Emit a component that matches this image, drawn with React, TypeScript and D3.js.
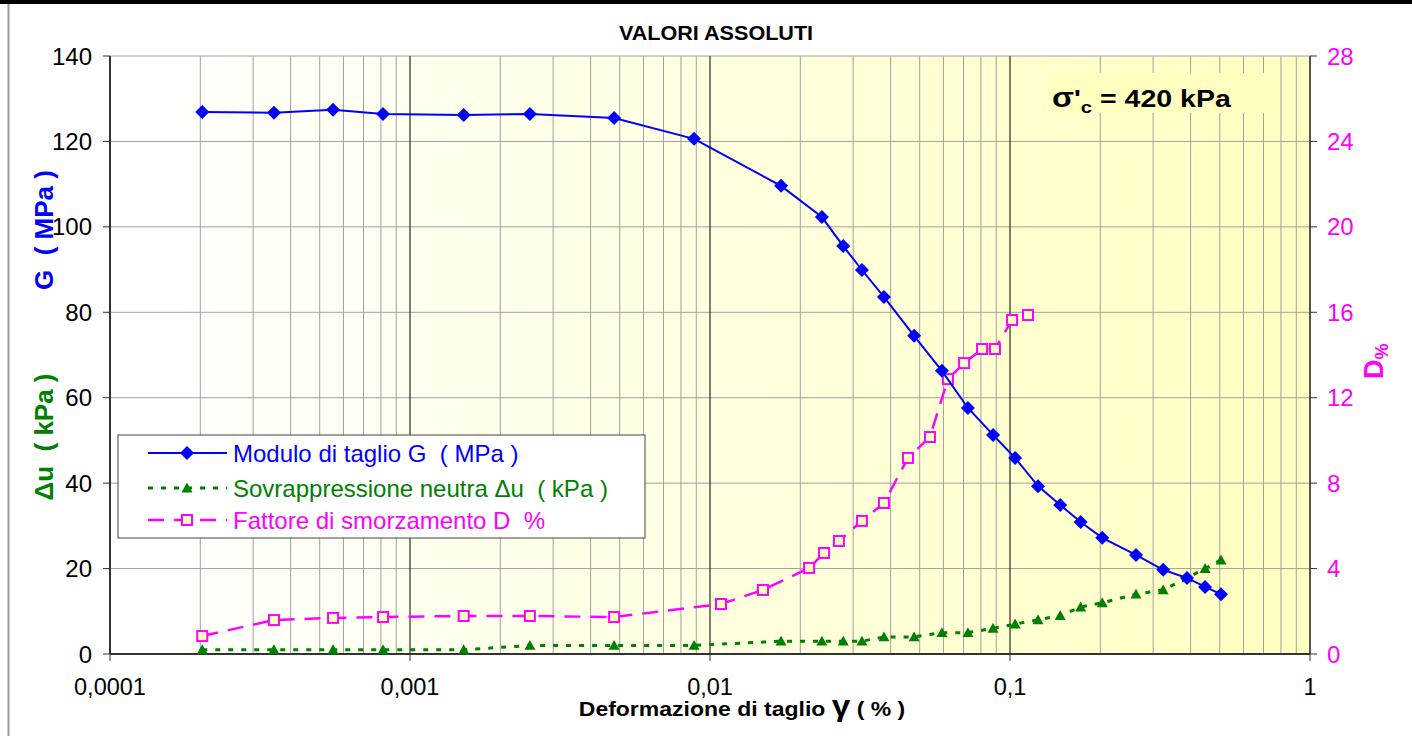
import React from "react";
import * as d3 from "d3";

const gammaG = [0.000203, 0.000352, 0.000554, 0.000813, 0.00151, 0.00251, 0.00479, 0.00885, 0.01725, 0.0236, 0.0278, 0.0321, 0.038, 0.0479, 0.0593, 0.0724, 0.0878, 0.104, 0.124, 0.147, 0.172, 0.203, 0.263, 0.324, 0.389, 0.447, 0.505];
const G = [126.9, 126.7, 127.4, 126.4, 126.2, 126.4, 125.5, 120.6, 109.6, 102.3, 95.5, 89.9, 83.6, 74.5, 66.3, 57.6, 51.3, 45.9, 39.3, 34.9, 30.9, 27.2, 23.2, 19.7, 17.8, 15.7, 14.0];
const DU = [1, 1, 1, 1, 1, 2, 2, 2, 3, 3, 3, 3, 4, 4, 5, 5, 6, 7, 8, 9, 11, 12, 14, 15, 17.8, 20, 22];
const gammaD = [0.000203, 0.000352, 0.000554, 0.000813, 0.00151, 0.00251, 0.00479, 0.01088, 0.01502, 0.0214, 0.024, 0.0269, 0.0321, 0.038, 0.0457, 0.0541, 0.0621, 0.0703, 0.0807, 0.0891, 0.1016, 0.1148];
const D = [0.84, 1.59, 1.69, 1.73, 1.78, 1.78, 1.73, 2.34, 3.0, 4.03, 4.73, 5.29, 6.23, 7.07, 9.18, 10.16, 12.87, 13.62, 14.28, 14.28, 15.64, 15.87];

const xTicks = [0.0001, 0.001, 0.01, 0.1, 1];
const xTickLabels = ["0,0001", "0,001", "0,01", "0,1", "1"];
const yLeftTicks = [0, 20, 40, 60, 80, 100, 120, 140];
const yRightTicks = [0, 4, 8, 12, 16, 20, 24, 28];

const legendLabels = ["Modulo di taglio G  ( MPa )", "Sovrappressione neutra \u0394u  ( kPa )", "Fattore di smorzamento D  %"];

const FONT = "'Liberation Sans', Arial, sans-serif";

export default function App() {
  const W = 1412, H = 736;
  const L = 110, R = 1310, T = 56, B = 654;
  const x = d3.scaleLog().domain([0.0001, 1]).range([L, R]);
  const yL = d3.scaleLinear().domain([0, 140]).range([B, T]);
  const yR = d3.scaleLinear().domain([0, 28]).range([B, T]);

  const minor: number[] = [];
  for (let e = -4; e < 0; e++) {
    for (let k = 2; k <= 9; k++) minor.push(k * Math.pow(10, e));
  }

  const lineG = d3.line<number>().x((_, i) => x(gammaG[i])).y((d) => yL(d))(G) || "";
  const lineDU = d3.line<number>().x((_, i) => x(gammaG[i])).y((d) => yL(d))(DU) || "";
  const lineD = d3.line<number>().x((_, i) => x(gammaD[i])).y((d) => yR(d))(D) || "";

  const diamond = (cx: number, cy: number, s: number) => `M${cx},${cy - s}L${cx + s},${cy}L${cx},${cy + s}L${cx - s},${cy}Z`;
  const tri = (cx: number, cy: number, s: number) => `M${cx},${cy - s}L${cx + s},${cy + s * 0.8}L${cx - s},${cy + s * 0.8}Z`;

  const blue = "#0000FF", green = "#008000", mag = "#FF00FF";

  const lgX = 118, lgY = 435, lgW = 527, lgH = 103;
  const rows = [453, 488, 520];

  return (
    <div style={{ position: "absolute", left: 0, top: 0 }}>
      <svg width={W} height={H} style={{ display: "block", fontFamily: FONT }}>
        <defs>
          <linearGradient id="bg" x1="0" x2="1" y1="0" y2="0">
            <stop offset="0" stopColor="#FFFFFF" />
            <stop offset="0.5" stopColor="#FFFFE0" />
            <stop offset="1" stopColor="#FFFFC0" />
          </linearGradient>
        </defs>
        <rect x={0} y={0} width={W} height={H} fill="#fff" />
        <rect x={0} y={0} width={W} height={4} fill="#000" />
        <line x1={8.5} x2={8.5} y1={4} y2={H} stroke="#999" strokeWidth={2} />

        <text transform="translate(716,40) scale(1.08,1)" textAnchor="middle" fontSize={20} fontWeight="bold">VALORI ASSOLUTI</text>

        <rect x={L} y={T} width={R - L} height={B - T} fill="url(#bg)" />
        {minor.map((v, i) => (
          <line key={"m" + i} x1={x(v)} x2={x(v)} y1={T} y2={B} stroke="#A0A0A0" strokeWidth={1} />
        ))}
        {yLeftTicks.slice(1).map((v) => (
          <line key={"h" + v} x1={L} x2={R} y1={yL(v)} y2={yL(v)} stroke="#A0A0A0" strokeWidth={1} />
        ))}
        {xTicks.slice(1, 4).map((v) => (
          <line key={"M" + v} x1={x(v)} x2={x(v)} y1={T} y2={B} stroke="#000" strokeWidth={1} />
        ))}

        {/* axes */}
        <line x1={L} x2={L} y1={T} y2={B} stroke="#333" strokeWidth={2} />
        <line x1={R} x2={R} y1={T} y2={B} stroke="#555" strokeWidth={2} />
        <line x1={L} x2={R} y1={B} y2={B} stroke="#333" strokeWidth={2} />
        {yLeftTicks.map((v) => (
          <g key={"yl" + v}>
            <line x1={L - 7} x2={L} y1={yL(v)} y2={yL(v)} stroke="#333" strokeWidth={1} />
            <text x={92} y={yL(v) + 8.5} textAnchor="end" fontSize={24}>{v}</text>
          </g>
        ))}
        {yRightTicks.map((v) => (
          <g key={"yr" + v}>
            <line x1={R} x2={R + 7} y1={yR(v)} y2={yR(v)} stroke="#333" strokeWidth={1} />
            <text x={1327} y={yR(v) + 8.5} textAnchor="start" fontSize={24} fill={mag}>{v}</text>
          </g>
        ))}
        {xTicks.map((v, i) => (
          <g key={"xt" + v}>
            <line x1={x(v)} x2={x(v)} y1={B} y2={B + 7} stroke="#333" strokeWidth={1} />
            <text x={x(v)} y={695} textAnchor="middle" fontSize={23.5}>{xTickLabels[i]}</text>
          </g>
        ))}

        {/* axis titles */}
        <text transform="translate(53,230) rotate(-90)" textAnchor="middle" fontSize={26} fontWeight="bold" fill={blue} xmlSpace="preserve">G  ( MPa )</text>
        <text transform="translate(53,437) rotate(-90)" textAnchor="middle" fontSize={26} fontWeight="bold" fill={green} xmlSpace="preserve">{"\u0394u  ( kPa )"}</text>
        <text transform="translate(1383,379) rotate(-90)" textAnchor="start" fontSize={27} fontWeight="bold" fill={mag}>
          D<tspan fontSize={18} dy={5}>%</tspan>
        </text>
        <text transform="translate(742,716) scale(1.15,1)" textAnchor="middle" fontSize={20} fontWeight="bold" xmlSpace="preserve">
          Deformazione di taglio <tspan fontSize={29}>{"\u03B3"}</tspan> ( % )
        </text>

        {/* series */}
        <path d={lineDU} fill="none" stroke={green} strokeWidth={3} strokeDasharray="5 8" />
        {DU.map((v, i) => (
          <path key={"t" + i} d={tri(x(gammaG[i]), yL(v), 5.5)} fill={green} />
        ))}
        <path d={lineD} fill="none" stroke={mag} strokeWidth={2.5} strokeDasharray="16 10" />
        {D.map((v, i) => (
          <rect key={"s" + i} x={x(gammaD[i]) - 5} y={yR(v) - 5} width={10} height={10} fill="#FFFFC0" stroke={mag} strokeWidth={2} />
        ))}
        <path d={lineG} fill="none" stroke={blue} strokeWidth={2} />
        {G.map((v, i) => (
          <path key={"d" + i} d={diamond(x(gammaG[i]), yL(v), 7)} fill={blue} />
        ))}

        {/* annotation */}
        <rect x={1050} y={73} width={228} height={40} fill="#FFFFC0" />
        <text transform="translate(1052,107) scale(1.19,1)" fontSize={24} fontWeight="bold" xmlSpace="preserve">
          <tspan fontSize={27}>{"\u03C3"}</tspan>{"'"}<tspan fontSize={17} dy={6}>c</tspan><tspan dy={-6}> = 420 kPa</tspan>
        </text>

        {/* legend */}
        <rect x={lgX} y={lgY} width={lgW} height={lgH} fill="#fff" stroke="#444" strokeWidth={1} />
        <line x1={148} x2={227} y1={rows[0]} y2={rows[0]} stroke={blue} strokeWidth={2} />
        <path d={diamond(187, rows[0], 7)} fill={blue} />
        <line x1={148} x2={227} y1={rows[1]} y2={rows[1]} stroke={green} strokeWidth={3} strokeDasharray="5 8" />
        <path d={tri(187, rows[1], 5.5)} fill={green} />
        <line x1={148} x2={227} y1={rows[2]} y2={rows[2]} stroke={mag} strokeWidth={2.5} strokeDasharray="16 10" />
        <rect x={182} y={rows[2] - 5} width={10} height={10} fill="#FFFFC0" stroke={mag} strokeWidth={2} />
        {legendLabels.map((t, i) => (
          <text key={"lg" + i} x={233} y={rows[i] + 8.5} fontSize={24} fill={[blue, green, mag][i]} xmlSpace="preserve">{t}</text>
        ))}
      </svg>
    </div>
  );
}
